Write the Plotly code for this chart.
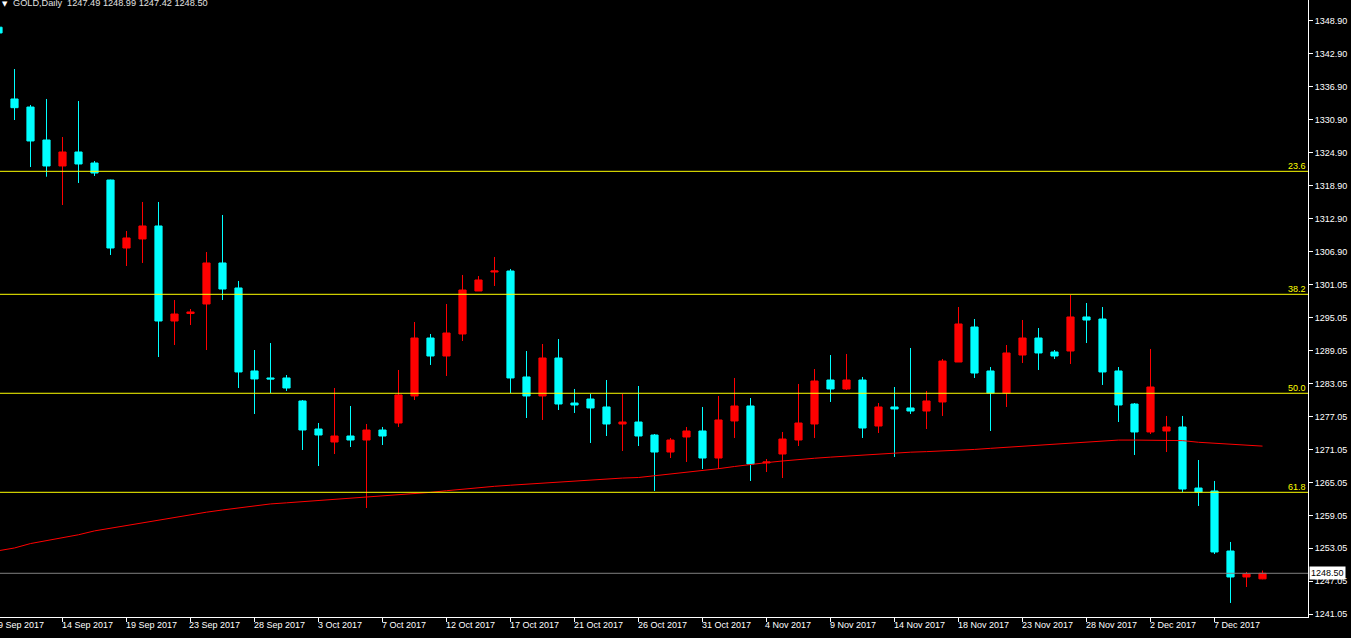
import numpy as np
import plotly.graph_objects as go

# ---------------- data ----------------
bar_index = list(range(80))
opens = [1347.70, 1334.66, 1333.20, 1327.21, 1322.49, 1325.03, 1323.03, 1319.94, 1307.59, 1309.23,
         1311.59, 1294.33, 1295.69, 1297.42, 1304.87, 1300.33, 1285.25, 1283.98, 1283.98, 1279.80,
         1274.71, 1272.35, 1273.44, 1272.71, 1274.53, 1275.80, 1280.71, 1291.24, 1287.97, 1291.97,
         1299.78, 1303.23, 1303.41, 1284.16, 1280.71, 1287.61, 1279.43, 1280.16, 1278.71, 1275.62,
         1275.98, 1273.62, 1270.53, 1273.26, 1274.35, 1269.44, 1276.17, 1278.89, 1268.54, 1270.17,
         1272.71, 1275.62, 1283.61, 1281.98, 1283.61, 1275.25, 1278.71, 1278.53, 1277.98, 1279.62,
         1286.88, 1293.24, 1285.25, 1281.25, 1288.15, 1291.24, 1288.70, 1288.88, 1295.06, 1294.69,
         1285.25, 1279.25, 1274.17, 1274.35, 1275.08, 1263.99, 1263.45, 1252.55, 1247.83, 1247.49]
highs = [1348.10, 1340.10, 1333.57, 1334.66, 1327.75, 1334.29, 1323.39, 1320.00, 1310.68, 1315.95,
         1315.95, 1298.14, 1296.51, 1306.86, 1313.59, 1301.60, 1289.06, 1290.33, 1284.52, 1279.98,
         1275.80, 1282.16, 1278.89, 1275.62, 1275.08, 1285.43, 1294.15, 1291.97, 1297.42, 1302.69,
         1302.50, 1305.96, 1303.78, 1288.88, 1290.15, 1291.06, 1281.98, 1281.07, 1283.61, 1281.07,
         1282.52, 1273.80, 1273.08, 1275.08, 1278.71, 1280.71, 1283.98, 1280.34, 1269.26, 1274.17,
         1282.89, 1285.61, 1288.15, 1288.34, 1284.16, 1279.43, 1282.34, 1289.43, 1281.62, 1287.43,
         1296.87, 1294.69, 1285.97, 1289.97, 1294.51, 1293.06, 1289.06, 1299.05, 1297.60, 1296.87,
         1285.97, 1279.43, 1289.25, 1277.08, 1277.08, 1269.08, 1265.27, 1254.19, 1248.74, 1248.99]
lows = [1346.40, 1330.84, 1322.30, 1320.54, 1315.40, 1319.40, 1320.67, 1306.32, 1304.32, 1304.87,
        1287.79, 1289.97, 1293.60, 1289.06, 1298.14, 1282.16, 1277.44, 1281.25, 1281.62, 1270.90,
        1267.99, 1270.17, 1271.44, 1260.36, 1271.80, 1275.08, 1279.98, 1286.34, 1284.34, 1290.70,
        1299.78, 1300.69, 1281.25, 1276.71, 1276.35, 1278.16, 1277.62, 1272.17, 1273.44, 1270.72,
        1271.62, 1263.45, 1269.44, 1268.72, 1267.45, 1267.45, 1273.08, 1265.27, 1266.90, 1265.81,
        1271.62, 1273.08, 1279.62, 1281.80, 1273.08, 1273.99, 1269.63, 1277.44, 1274.71, 1277.08,
        1286.88, 1283.98, 1274.35, 1278.71, 1286.70, 1285.43, 1287.43, 1286.52, 1290.33, 1282.71,
        1275.98, 1269.99, 1273.80, 1270.53, 1263.27, 1260.73, 1252.00, 1243.11, 1246.01, 1247.42]
closes = [1346.65, 1333.08, 1327.03, 1322.49, 1325.03, 1322.85, 1321.21, 1307.59, 1309.41, 1311.59,
          1294.33, 1295.60, 1295.97, 1304.87, 1300.14, 1285.07, 1283.80, 1283.80, 1282.16, 1274.53,
          1273.62, 1273.44, 1272.71, 1274.53, 1273.44, 1280.89, 1291.24, 1287.97, 1292.15, 1299.96,
          1301.78, 1303.41, 1283.98, 1280.71, 1287.61, 1279.25, 1279.07, 1278.53, 1275.62, 1275.98,
          1273.44, 1270.53, 1272.71, 1274.35, 1269.44, 1276.35, 1278.89, 1268.35, 1268.72, 1272.89,
          1275.80, 1283.43, 1281.98, 1283.61, 1274.89, 1278.71, 1278.35, 1277.98, 1279.80, 1287.06,
          1293.79, 1284.88, 1281.25, 1288.52, 1291.24, 1288.52, 1287.97, 1295.06, 1294.51, 1285.07,
          1279.07, 1274.17, 1282.34, 1275.08, 1263.81, 1263.27, 1252.37, 1247.83, 1248.37, 1248.50]
moving_avg = [1252.6, 1253.1, 1253.9, 1254.4, 1254.9, 1255.5, 1256.2, 1256.7, 1257.2, 1257.7,
              1258.2, 1258.7, 1259.2, 1259.6, 1260.0, 1260.4, 1260.8, 1261.1, 1261.3, 1261.5,
              1261.7, 1261.9, 1262.1, 1262.3, 1262.6, 1262.8, 1263.0, 1263.2, 1263.5, 1263.8,
              1264.1, 1264.3, 1264.5, 1264.7, 1264.8, 1265.0, 1265.2, 1265.4, 1265.6, 1265.8,
              1265.9, 1266.2, 1266.5, 1266.8, 1267.2, 1267.5, 1267.9, 1268.3, 1268.6, 1268.9,
              1269.2, 1269.4, 1269.6, 1269.8, 1270.0, 1270.2, 1270.3, 1270.5, 1270.6, 1270.7,
              1270.9, 1271.0, 1271.2, 1271.4, 1271.6, 1271.8, 1272.0, 1272.2, 1272.4, 1272.6,
              1272.7, 1272.7, 1272.7, 1272.7, 1272.6, 1272.3, 1272.1, 1271.9, 1271.7, 1271.6]

fib_levels = [1321.52, 1299.18, 1281.20, 1263.21]
fib_labels = ["23.6", "38.2", "50.0", "61.8"]
bid_price = 1248.50

date_label_bars = [0, 4, 8, 12, 16, 20, 24, 28, 32, 36, 40, 44, 48, 52, 56, 60, 64, 68, 72, 76]
date_labels = ["9 Sep 2017", "14 Sep 2017", "19 Sep 2017", "23 Sep 2017", "28 Sep 2017",
               "3 Oct 2017", "7 Oct 2017", "12 Oct 2017", "17 Oct 2017", "21 Oct 2017",
               "26 Oct 2017", "31 Oct 2017", "4 Nov 2017", "9 Nov 2017", "14 Nov 2017",
               "18 Nov 2017", "23 Nov 2017", "28 Nov 2017", "2 Dec 2017", "7 Dec 2017"]
price_tick_labels = ["1348.90", "1342.90", "1336.90", "1330.90", "1324.90", "1318.90", "1312.90",
                     "1306.90", "1301.05", "1295.05", "1289.05", "1283.05", "1277.05", "1271.05",
                     "1265.05", "1259.05", "1253.05", "1247.05", "1241.05"]
title_text = "GOLD,Daily\u00a0\u00a01247.49 1248.99 1247.42 1248.50"

# ---------------- figure ----------------
FONT = "Liberation Sans, Arial, sans-serif"
W, H = 1351, 638
M_L, M_R, M_T, M_B = 0, 43, 0, 21

plot_w = W - M_L - M_R
px_per_bar = 16.0
x0 = 1.5 / px_per_bar
x_range = [x0, x0 + plot_w / px_per_bar]
y_range = [1240.56, 1352.64]
tick_pos = list(np.linspace(1348.90, 1241.05, len(price_tick_labels)))

fig = go.Figure()
fig.add_trace(go.Candlestick(
    x=bar_index, open=opens, high=highs, low=lows, close=closes,
    increasing=dict(line=dict(color="#FF0000", width=1), fillcolor="#FF0000"),
    decreasing=dict(line=dict(color="#00FFFF", width=1), fillcolor="#00FFFF"),
    whiskerwidth=0, hoverinfo="skip", showlegend=False,
))
fig.add_trace(go.Scatter(
    x=bar_index, y=moving_avg, mode="lines",
    line=dict(color="#FF0000", width=1), hoverinfo="skip", showlegend=False,
))

# Fibonacci levels
for lvl, lab in zip(fib_levels, fib_labels):
    fig.add_shape(type="line", xref="paper", x0=0, x1=1, yref="y", y0=lvl, y1=lvl,
                  line=dict(color="#FFFF00", width=1), layer="above")
    fig.add_annotation(xref="paper", x=1, xanchor="right", xshift=-1,
                       yref="y", y=lvl, yanchor="bottom", yshift=-1,
                       text=lab, showarrow=False,
                       font=dict(family=FONT, size=9, color="#FFFF00"), borderpad=0)

# bid line + label
fig.add_shape(type="line", xref="paper", x0=0, x1=1, yref="y", y0=bid_price, y1=bid_price,
              line=dict(color="#808080", width=1), layer="above")
fig.add_annotation(xref="paper", x=1, xanchor="left", xshift=1,
                   yref="y", y=bid_price, yanchor="middle",
                   text=f"{bid_price:.2f}", showarrow=False, bgcolor="#FFFFFF",
                   font=dict(family=FONT, size=9, color="#000000"), borderpad=1)

# date labels (left-aligned at tick, MT4 style)
for b, lab in zip(date_label_bars, date_labels):
    xp = (b - x_range[0]) / (x_range[1] - x_range[0])
    fig.add_annotation(xref="paper", x=xp, xanchor="left", xshift=-2,
                       yref="paper", y=0, yanchor="top", yshift=-2,
                       text=lab, showarrow=False,
                       font=dict(family=FONT, size=9, color="#FFFFFF"), borderpad=0)

# title
fig.add_annotation(xref="paper", x=0, xanchor="left", xshift=1,
                   yref="paper", y=1, yanchor="top", yshift=1,
                   text="▼", showarrow=False,
                   font=dict(family="DejaVu Sans", size=7, color="#FFFFFF"), borderpad=0)
fig.add_annotation(xref="paper", x=0, xanchor="left", xshift=12,
                   yref="paper", y=1, yanchor="top", yshift=3,
                   text=title_text, showarrow=False,
                   font=dict(family=FONT, size=9.2, color="#E0E0E0"), borderpad=0)

fig.update_layout(
    width=W, height=H,
    margin=dict(l=M_L, r=M_R, t=M_T, b=M_B, pad=0),
    paper_bgcolor="#000000", plot_bgcolor="#000000",
    boxgap=0.36,
    showlegend=False,
    xaxis=dict(range=x_range, showgrid=False, zeroline=False, rangeslider=dict(visible=False),
               showline=True, linecolor="#FFFFFF", linewidth=1,
               tickmode="array", tickvals=date_label_bars[1:], ticks="outside", ticklen=4,
               tickcolor="#FFFFFF", tickwidth=1, showticklabels=False, fixedrange=True),
    yaxis=dict(range=y_range, side="right", showgrid=False, zeroline=False,
               showline=True, linecolor="#FFFFFF", linewidth=1,
               tickmode="array", tickvals=tick_pos, ticktext=price_tick_labels,
               ticks="outside", ticklen=4, tickcolor="#FFFFFF", tickwidth=1,
               tickfont=dict(family=FONT, size=9, color="#FFFFFF"), fixedrange=True),
)

fig.write_html("out.html", config={"displayModeBar": False},
               post_script="document.body.style.margin='0';document.body.style.padding='0';"
                           "document.body.style.background='#000';")
